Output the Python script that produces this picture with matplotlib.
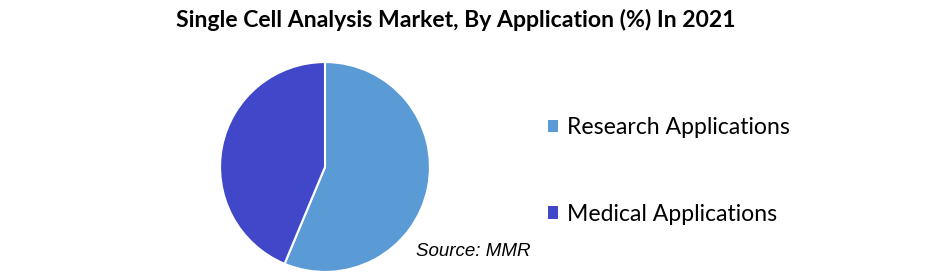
import matplotlib
matplotlib.use("Agg")
import matplotlib.pyplot as plt

labels = ["Research Applications", "Medical Applications"]
shares = [56.3, 43.7]
colors = ["#5B9BD5", "#4147C9"]

W, H = 941, 274
fig = plt.figure(figsize=(W / 100, H / 100), dpi=100)
fig.patch.set_facecolor("white")

# pie axes placed in pixel coords: center (325,167), radius 106
cx, cy, r = 325, 167, 106
ax = fig.add_axes([(cx - r) / W, (H - cy - r) / H, 2 * r / W, 2 * r / H])
wedges, _ = ax.pie(
    shares,
    colors=colors,
    startangle=90,
    counterclock=False,
    radius=1,
    wedgeprops=dict(edgecolor="white", linewidth=1.5),
)
ax.set_xlim(-1.01, 1.01)
ax.set_ylim(-1.01, 1.01)
ax.set_aspect("equal")
ax.axis("off")

fig.text(456 / W, 1 - 20 / H, "Single Cell Analysis Market, By Application (%) In 2021",
         ha="center", va="center", fontsize=16.6, fontweight="bold", family="Lato")

leg = fig.legend(
    wedges, labels,
    loc="center left",
    bbox_to_anchor=(527 / W, 1 - 171 / H),
    frameon=False,
    handlelength=0.45,
    handleheight=0.45,
    handletextpad=0.4,
    labelspacing=2.85,
    prop=dict(family="Lato", size=16.6),
)
for h in leg.legend_handles:
    h.set_edgecolor("none")

fig.text(416 / W, 1 - 252 / H, "Source: MMR", ha="left", va="center",
         fontsize=13.5, style="italic", family="Liberation Sans")

fig.savefig("out.png", dpi=100, facecolor="white")
